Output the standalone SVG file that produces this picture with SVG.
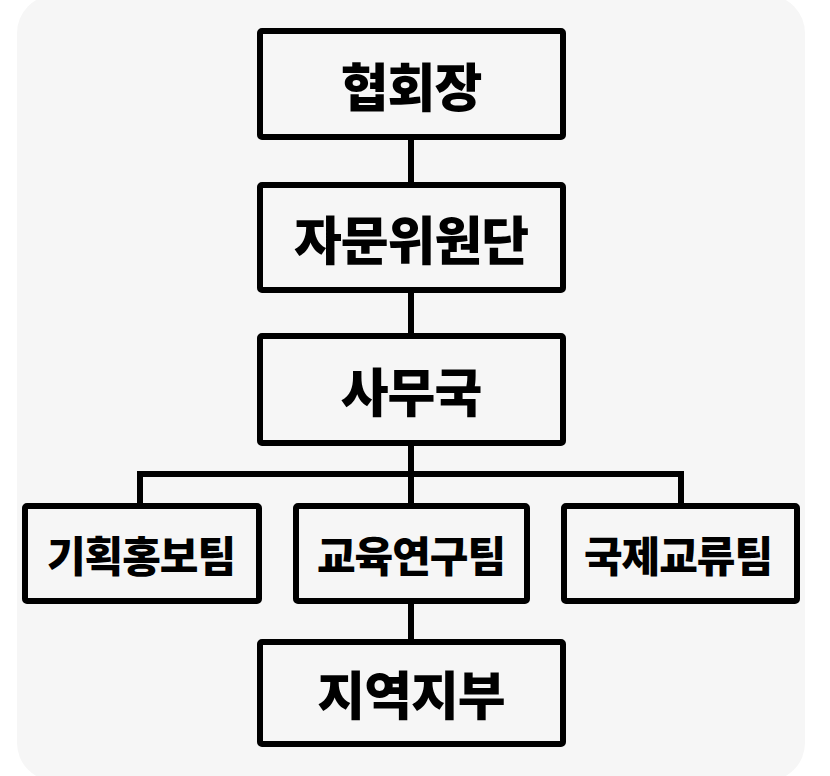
<svg xmlns="http://www.w3.org/2000/svg" width="830" height="776" viewBox="0 0 830 776">
<style>
.box{fill:none;stroke:#000;stroke-width:6;stroke-linejoin:round}
.ln{fill:none;stroke:#000;stroke-width:6;stroke-linecap:butt}
.big{font-family:"Noto Sans CJK KR","Noto Sans",sans-serif;font-weight:900;font-size:52px;letter-spacing:-1px;text-anchor:middle;dominant-baseline:central;fill:#000}
.sm{font-family:"Noto Sans CJK KR","Noto Sans",sans-serif;font-weight:900;font-size:42px;letter-spacing:-1px;text-anchor:middle;dominant-baseline:central;fill:#000}
</style>
<rect x="0" y="0" width="830" height="776" fill="#ffffff"/>
<rect x="17" y="-5" width="788" height="786" rx="38" ry="38" fill="#f6f6f6"/>
<g id="connectors">
<path class="ln" d="M411 137V185M411 290V336M411 443V506M140 474H681M140 471V506M681 471V506M411 601V642"/>
</g>
<g id="n1"><rect class="box" x="260" y="31" width="303" height="106" rx="2"/><text class="big" x="411" y="84">협회장</text></g>
<g id="n2"><rect class="box" x="260" y="185" width="303" height="105" rx="2"/><text class="big" x="411" y="237">자문위원단</text></g>
<g id="n3"><rect class="box" x="260" y="336" width="303" height="107" rx="2"/><text class="big" x="411" y="389">사무국</text></g>
<g id="n4"><rect class="box" x="25" y="506" width="234" height="95" rx="2"/><text class="sm" x="141" y="553">기획홍보팀</text></g>
<g id="n5"><rect class="box" x="296" y="506" width="231" height="95" rx="2"/><text class="sm" x="411" y="553">교육연구팀</text></g>
<g id="n6"><rect class="box" x="564" y="506" width="233" height="95" rx="2"/><text class="sm" x="678" y="553">국제교류팀</text></g>
<g id="n7"><rect class="box" x="260" y="642" width="303" height="102" rx="2"/><text class="big" x="411" y="692">지역지부</text></g>
</svg>
